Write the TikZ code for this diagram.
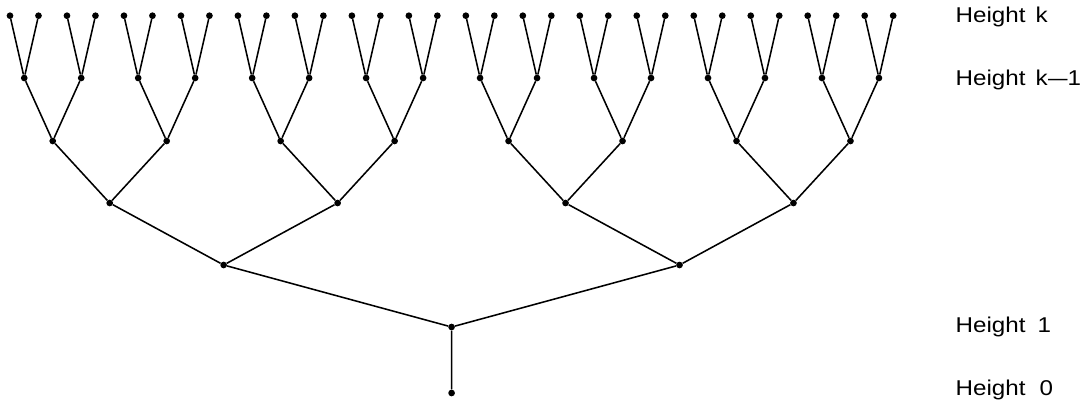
\documentclass[tikz,border=0pt]{standalone}
\usepackage{fontspec}
\setmainfont{Liberation Sans}
\newfontfamily\labfont[FakeStretch=1.13]{Liberation Sans}
\begin{document}
\begin{tikzpicture}[x=1pt,y=-1pt,
  dot/.style={circle,fill=black,inner sep=0pt,minimum size=6.7pt},
  edge/.style={line width=1.55pt},
  lab/.style={anchor=base west,font=\labfont\fontsize{21.4}{26}\selectfont,inner sep=0pt}]
\useasboundingbox (0,0) rectangle (1082,405);
% nodes
\foreach \l/\yy in {1/327,2/265,3/203,4/141,5/78,6/15.7} {
  \pgfmathtruncatemacro\cnt{2^(\l-1)-1}
  \pgfmathsetmacro\sp{2^(6-\l)}
  \foreach \j in {0,...,\cnt} {
    \pgfmathsetmacro\xx{10+28.49*(\sp*\j+(\sp-1)/2)}
    \node[dot] (n\l-\j) at (\xx,\yy) {};
  }
}
\node[dot] (n0-0) at (451.6,393) {};
% edges
\draw[edge] (n0-0) -- (n1-0);
\foreach \l in {1,...,5} {
  \pgfmathtruncatemacro\cnt{2^(\l-1)-1}
  \pgfmathtruncatemacro\nl{\l+1}
  \foreach \j in {0,...,\cnt} {
    \pgfmathtruncatemacro\a{2*\j}
    \pgfmathtruncatemacro\b{2*\j+1}
    \draw[edge] (n\l-\j) -- (n\nl-\a);
    \draw[edge] (n\l-\j) -- (n\nl-\b);
  }
}
% labels
\node[lab] (hk) at (955.5,22.8) {Height\hspace{10pt}k};
\node[lab] (hk1) at (955.5,85.3) {Height\hspace{10pt}k\kern0.5pt\scalebox{1.45}[1]{–}1};
\node[lab] (h1) at (955.5,332.8) {Height\hspace{12pt}1};
\node[lab] (h0) at (955.5,395.8) {Height\hspace{14pt}0};
\end{tikzpicture}
\end{document}
